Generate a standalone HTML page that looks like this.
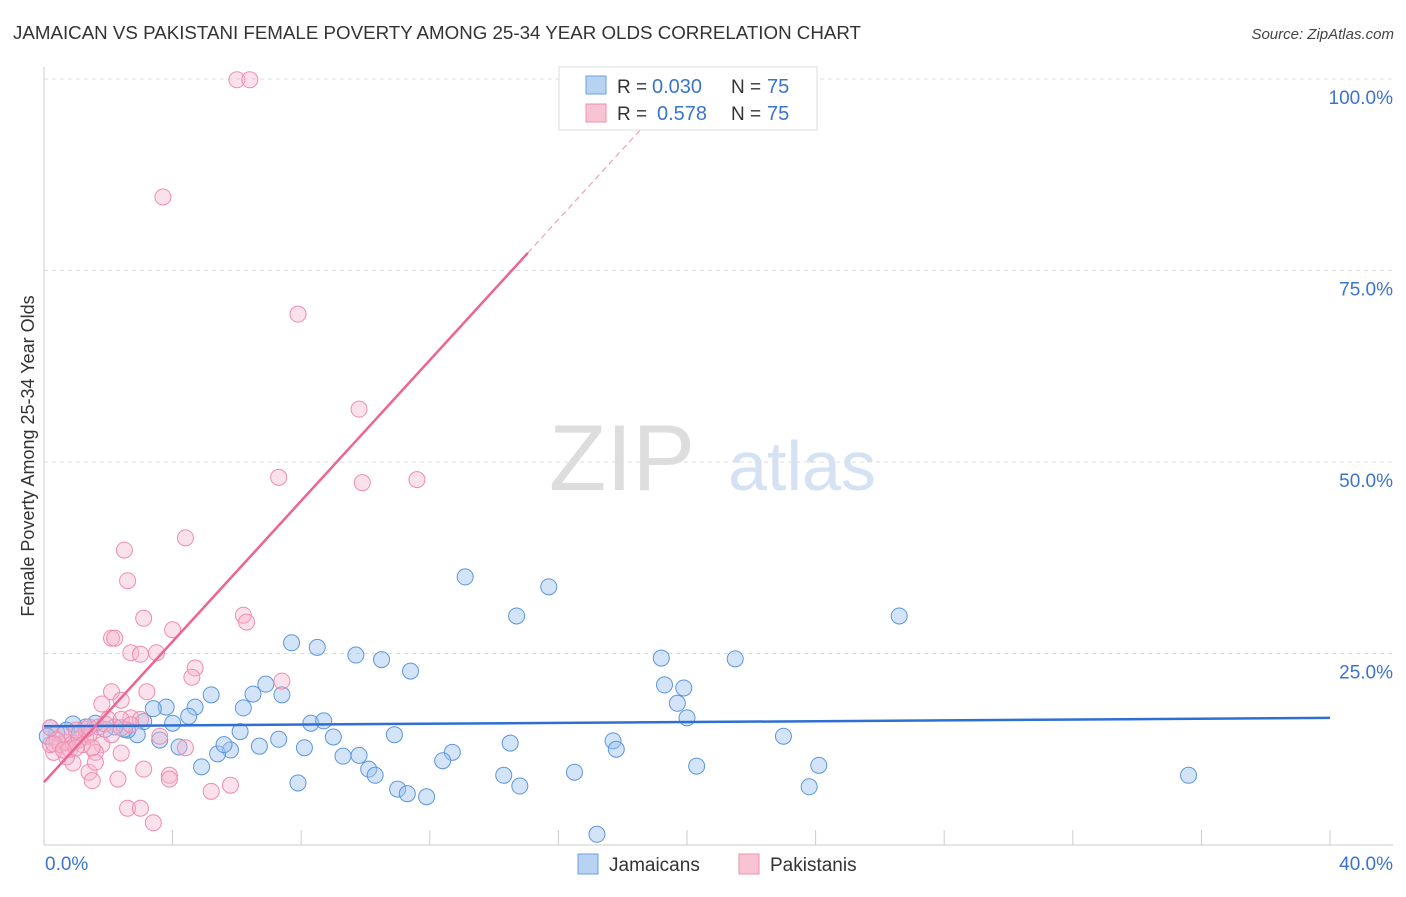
<!DOCTYPE html>
<html><head><meta charset="utf-8"><style>
body{margin:0;background:#fff;font-family:"Liberation Sans",sans-serif;}
svg text{font-family:"Liberation Sans",sans-serif;}
</style></head><body>
<svg id="chart" width="1406" height="892" viewBox="0 0 1406 892" xmlns="http://www.w3.org/2000/svg">
<text x="13" y="39" font-size="18" fill="#333" textLength="848" lengthAdjust="spacingAndGlyphs">JAMAICAN VS PAKISTANI FEMALE POVERTY AMONG 25-34 YEAR OLDS CORRELATION CHART</text>
<text x="1394" y="39" font-size="15" fill="#444" text-anchor="end" font-style="italic">Source: ZipAtlas.com</text>
<g>
<text x="622" y="490" font-size="94" fill="#ddd" text-anchor="middle" font-family="Liberation Serif">ZIP</text>
<text x="802" y="490" font-size="70" fill="#d4e2f4" text-anchor="middle">atlas</text>
</g>
<g id="grid"></g>
<g id="axes"></g>
<g id="pts"></g>
<g id="lines"></g>
<text transform="translate(34,456) rotate(-90)" font-size="18" fill="#333" text-anchor="middle">Female Poverty Among 25-34 Year Olds</text>
<g>
<rect x="559" y="67" width="258" height="63" fill="#fff" stroke="#ddd"/>
<rect x="586" y="76" width="20" height="18" fill="#b8d2f4" stroke="#6ea0e0"/>
<text x="617" y="93" font-size="19" fill="#333">R =</text>
<text x="652" y="93" font-size="20" fill="#3a74d0">0.030</text>
<text x="731" y="93" font-size="19" fill="#333">N =</text>
<text x="767" y="93" font-size="20" fill="#3a74d0">75</text>
<rect x="586" y="104" width="20" height="18" fill="#f8c4d4" stroke="#f090b0"/>
<text x="617" y="120" font-size="19" fill="#333">R =</text>
<text x="657" y="120" font-size="20" fill="#3a74d0">0.578</text>
<text x="731" y="120" font-size="19" fill="#333">N =</text>
<text x="767" y="120" font-size="20" fill="#3a74d0">75</text>
</g>
<g>
<rect x="578" y="854" width="20" height="20" fill="#b8d2f4" stroke="#6ea0e0"/>
<text x="609" y="871" font-size="19" fill="#333">Jamaicans</text>
<rect x="739" y="854" width="20" height="20" fill="#f8c4d4" stroke="#f090b0"/>
<text x="770" y="871" font-size="19" fill="#333">Pakistanis</text>
</g>
</svg>
<script>
const jamX=[13.1,15.7,14.7,26.6,7.7,8.5,9.7,10.5,11.4,19.2,21.5,19.3,19.9,19.7,20.0,6.9,6.5,7.4,5.2,4.7,3.8,3.4,6.2,4.5,3.1,4.0,8.3,8.7,6.1,7.3,9.0,10.9,14.5,17.7,17.8,23.0,4.2,3.6,6.7,8.1,9.3,9.8,12.7,5.8,5.4,5.6,12.4,4.9,10.1,10.3,16.5,14.3,14.8,20.3,24.1,23.8,35.6,7.9,11.0,11.3,11.9,17.2,2.9,2.6,2.5,2.2,1.9,1.6,1.3,0.9,0.7,0.4,0.2,0.1,1.1];
const jamY=[35.0,33.7,29.9,29.9,26.4,25.8,24.8,24.2,22.7,24.4,24.3,20.9,20.5,18.5,16.6,21.0,19.7,19.6,19.6,18.0,18.0,17.8,17.9,16.8,16.1,15.9,15.9,16.2,14.8,13.8,14.1,14.4,13.3,13.6,12.5,14.2,12.8,13.7,12.9,12.7,11.6,11.7,12.1,12.4,11.9,13.1,11.0,10.2,9.9,9.1,9.5,9.1,7.7,10.3,10.4,7.6,9.1,8.1,7.3,6.7,6.3,1.4,14.4,15.0,15.1,15.4,15.1,15.9,15.4,15.8,15.0,14.6,15.3,14.2,14.6];
const pakX=[6.0,6.4,3.7,7.9,9.8,7.3,9.9,11.6,4.4,2.5,2.6,3.1,6.2,6.3,4.0,2.1,2.2,2.7,3.0,3.5,4.7,4.6,7.4,2.1,3.2,2.4,1.8,2.7,2.0,2.4,3.0,3.6,4.4,1.8,2.4,1.6,1.3,1.4,1.6,1.5,2.3,3.1,3.9,3.9,5.2,5.8,2.6,3.0,3.4,0.9,0.7,0.3,0.2,0.2,0.5,0.7,0.9,1.1,1.2,0.6,1.4,1.3,1.7,0.8,0.4,1.0,0.3,1.0,1.4,1.9,1.5,2.1,2.4,2.7,0.6];
const pakY=[99.9,99.9,84.6,69.3,56.9,48.0,47.3,47.7,40.1,38.5,34.5,29.6,30.0,29.1,28.1,27.0,27.0,25.1,24.9,25.1,23.1,21.9,21.4,20.0,20.0,18.9,18.4,16.6,16.4,16.4,16.4,14.2,12.7,13.1,12.0,12.1,14.1,9.5,10.8,8.4,8.6,9.9,9.1,8.6,7.0,7.8,4.8,4.8,2.9,10.7,11.5,12.1,13.1,15.3,13.1,13.4,13.3,13.7,13.1,14.4,14.4,15.1,15.4,12.5,13.7,12.7,13.2,15.0,15.4,15.8,12.7,14.4,15.3,15.7,12.4];
const jamTrend=[15.5,16.6];
const pakTrend=[8.2,77.3];
const pakTrendEnd=[15.05,30];
const yTicks=[25,50,75,100];
const xTickLabels=["0.0%","40.0%"];

const NS="http://www.w3.org/2000/svg";
const X0=44,X1=1330,Y0=845,YP=7.66;
const sx=v=>X0+(X1-X0)*v/40;
const sy=v=>Y0-v*YP;
function mk(tag,attrs,parent){const e=document.createElementNS(NS,tag);for(const k in attrs)e.setAttribute(k,attrs[k]);parent.appendChild(e);return e;}
const grid=document.getElementById('grid'),axes=document.getElementById('axes'),pts=document.getElementById('pts'),lines=document.getElementById('lines');
yTicks.forEach(t=>{
 const l=mk('line',{x1:X0,x2:1393,y1:sy(t),y2:sy(t),stroke:'#ddd','stroke-dasharray':'4,4'},grid);
 
 
 const tx=mk('text',{x:1393,y:sy(t)+25,'font-size':19,fill:'#3a74d0','text-anchor':'end'},grid);
 tx.textContent=t.toFixed(1)+'%';
 
 
});
mk('line',{x1:X0,x2:X0,y1:67,y2:Y0,stroke:'#ccc'},axes);
mk('line',{x1:X0,x2:1393,y1:Y0,y2:Y0,stroke:'#ccc'},axes);
for(let i=0;i<=10;i++){const t=mk('line',{x1:sx(i*4),x2:sx(i*4),y1:Y0-15,y2:Y0,stroke:'#ccc'},axes);
 
 }
const xl0=mk('text',{x:45,y:870,'font-size':19,fill:'#3a74d0'},axes);xl0.textContent=xTickLabels[0];


const xl1=mk('text',{x:1393,y:870,'font-size':19,fill:'#3a74d0','text-anchor':'end'},axes);xl1.textContent=xTickLabels[1];


jamX.forEach((v,i)=>{const c=mk('circle',{cx:sx(v),cy:sy(jamY[i]),r:8,fill:'rgba(160,196,240,0.45)',stroke:'#5b96dc','stroke-width':1},pts);
 
 });
pakX.forEach((v,i)=>{const c=mk('circle',{cx:sx(v),cy:sy(pakY[i]),r:8,fill:'rgba(246,180,204,0.4)',stroke:'#f08cb0','stroke-width':1},pts);
 
 });
const jl=mk('line',{x1:sx(0),y1:sy(jamTrend[0]),x2:sx(40),y2:sy(jamTrend[1]),stroke:'#2f6fd4','stroke-width':2.5},lines);


const slope=(pakTrend[1]-pakTrend[0])/pakTrendEnd[0];
const pl=mk('line',{x1:sx(0),y1:sy(pakTrend[0]),x2:sx(pakTrendEnd[0]),y2:sy(pakTrend[1]),stroke:'#ec6492','stroke-width':2.5},lines);


const xe=pakTrendEnd[0]+(100-pakTrend[1])/slope;
const pd=mk('line',{x1:sx(pakTrendEnd[0]),y1:sy(pakTrend[1]),x2:sx(xe),y2:sy(100),stroke:'#f0a0bc','stroke-width':1.2,'stroke-dasharray':'6,4'},lines);


</script>
</body></html>
